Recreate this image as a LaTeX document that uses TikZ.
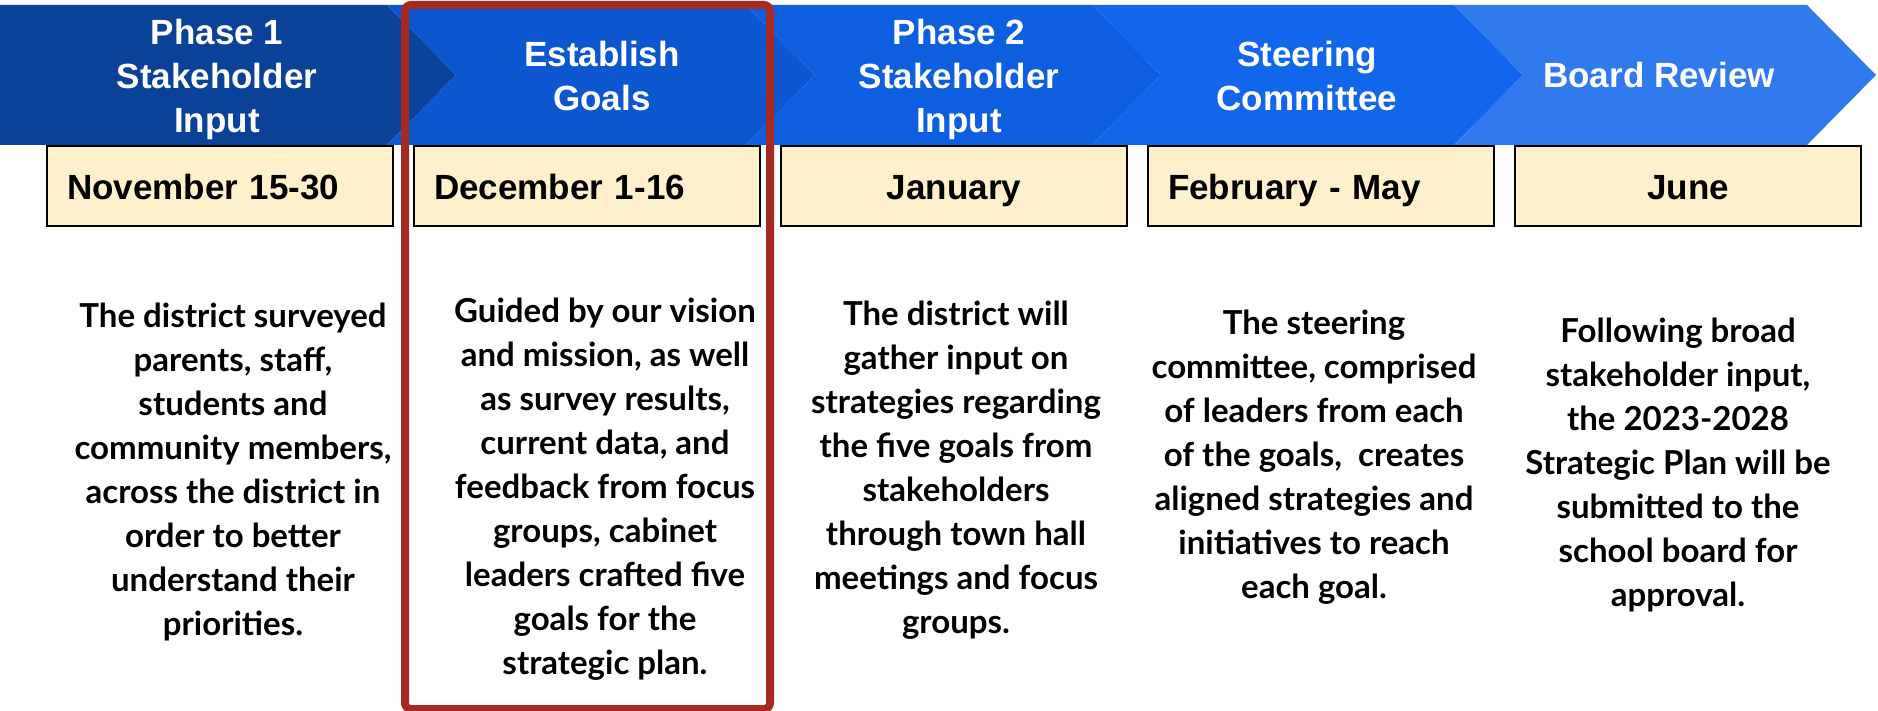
\documentclass[tikz,border=0pt]{standalone}
\usepackage{fontspec}
\setmainfont{Liberation Sans}
\newfontfamily\notefont{Lato}
\usepackage{tikz}
\usetikzlibrary{positioning}
\definecolor{phaseA}{HTML}{0A4299}
\definecolor{phaseB}{HTML}{0C57CF}
\definecolor{phaseC}{HTML}{0D5FDF}
\definecolor{phaseD}{HTML}{1166EB}
\definecolor{phaseE}{HTML}{317AEE}
\definecolor{dateFill}{HTML}{FFF0CC}
\definecolor{frameRed}{HTML}{A52A21}

\begin{document}
\begin{tikzpicture}[x=0.5pt, y=-0.5pt,
    phase/.style={text=white, align=center, font=\bfseries\fontsize{17.5}{22}\selectfont},
    date/.style={draw=black, line width=1pt, fill=dateFill, minimum width=173pt, minimum height=40pt,
        inner xsep=10pt, text width=153pt, text height=13.5pt, text depth=0pt,
        font=\bfseries\fontsize{17.5}{21}\selectfont},
    note/.style={align=center, font=\notefont\bfseries\fontsize{16.5}{22}\selectfont}]
    \useasboundingbox (0,0) rectangle (1878,711);
    \fill[phaseA] (0,5) -- (387,5) -- (456,75) -- (387,145) -- (0,145) -- cycle;
    \foreach \l/\r/\c in {387/746/phaseB, 746/1092/phaseC, 1092/1454/phaseD, 1454/1807/phaseE}
        \fill[\c] (\l,5) -- (\r,5) -- (\r+69,75) -- (\r,145) -- (\l,145) -- (\l+69,75) -- cycle;

    \node (p1) [phase] at (217,79) {Phase 1\\Stakeholder\\Input};
    \node (p2) [phase] at (602,76) {Establish\\Goals};
    \node (p3) [phase] at (959,79) {Phase 2\\Stakeholder\\Input};
    \node (p4) [phase] at (1307,76) {Steering\\Committee};
    \node (p5) [phase] at (1659,75) {Board Review};

    \node (d1) [date, align=left] at (220,186) {November 15-30};
    \node (d2) [date, align=left, right = 9.5pt of d1] {December 1-16};
    \node (d3) [date, align=center, right = 9.5pt of d2] {January};
    \node (d4) [date, align=left, right = 9.5pt of d3] {February - May};
    \node (d5) [date, align=center, right = 9.5pt of d4] {June};

    \node (n1) [note] at (233,472) {The district surveyed\\parents, staff,\\students and\\community members,\\across the district in\\order to better\\understand their\\priorities.};
    \node (n2) [note] at (605,489) {Guided by our vision\\and mission, as well\\as survey results,\\current data, and\\feedback from focus\\groups, cabinet\\leaders crafted five\\goals for the\\strategic plan.};
    \node (n3) [note] at (956,470) {The district will\\gather input on\\strategies regarding\\the five goals from\\stakeholders\\through town hall\\meetings and focus\\groups.};
    \node (n4) [note] at (1314,457) {The steering\\committee, comprised\\of leaders from each\\of the goals,\ \ creates\\aligned strategies and\\initiatives to reach\\each goal.};
    \node (n5) [note] at (1678,465) {Following broad\\stakeholder input,\\the 2023-2028\\Strategic Plan will be\\submitted to the\\school board for\\approval.};

    \draw[frameRed, line width=4pt, rounded corners=3pt] (405,5) rectangle (770,709);
\end{tikzpicture}
\end{document}
